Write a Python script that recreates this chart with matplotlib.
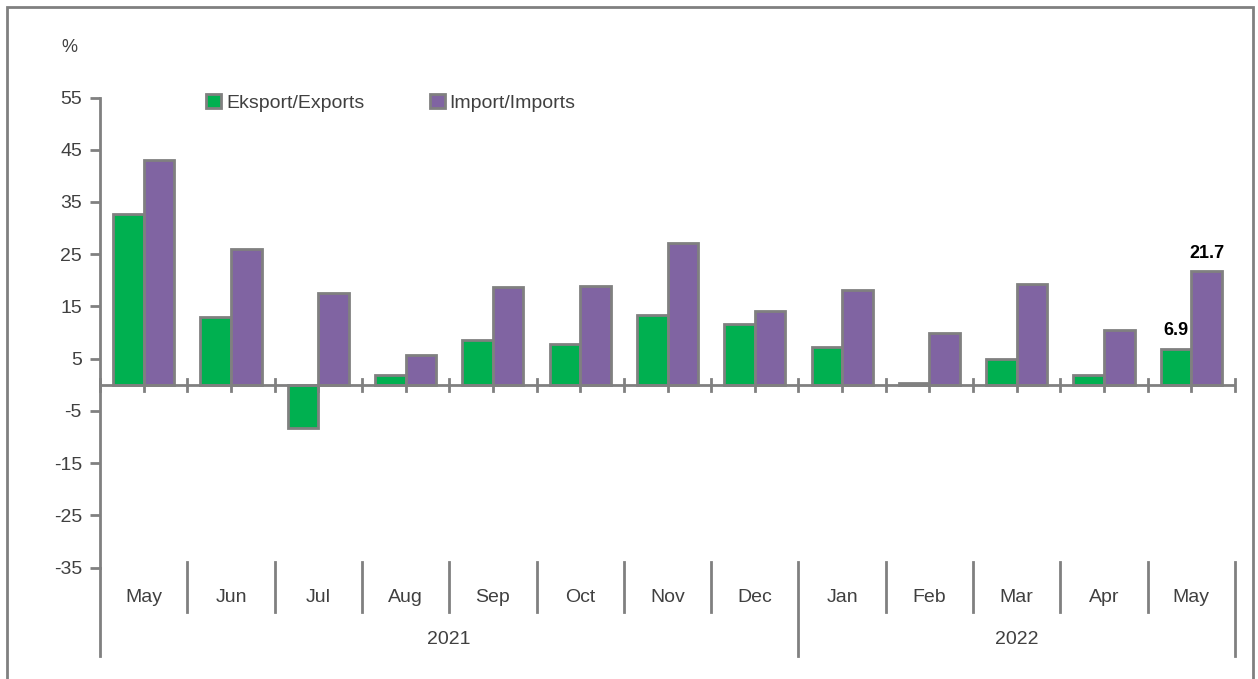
import matplotlib
matplotlib.use("Agg")
import matplotlib.pyplot as plt
from matplotlib import font_manager
from matplotlib.patches import Rectangle
import numpy as np

months = ["May", "Jun", "Jul", "Aug", "Sep", "Oct", "Nov", "Dec",
          "Jan", "Feb", "Mar", "Apr", "May"]
years = ["2021", "2022"]
year_counts = [8, 5]
exports = [32.7, 12.9, -8.3, 1.9, 8.5, 7.8, 13.3, 11.6, 7.2, 0.4, 5.0, 1.9, 6.9]
imports = [43.0, 25.9, 17.5, 5.7, 18.7, 19.0, 27.1, 14.1, 18.2, 9.9, 19.3, 10.5, 21.7]
yticks = [-35, -25, -15, -5, 5, 15, 25, 35, 45, 55]

names = {f.name for f in font_manager.fontManager.ttflist}
fam = "Liberation Sans Narrow" if "Liberation Sans Narrow" in names else "Liberation Sans"
plt.rcParams["font.family"] = [fam, "DejaVu Sans"]

W, H = 1258, 679
fig = plt.figure(figsize=(W / 100, H / 100), dpi=100)

def fx(px):
    return px / W

def fy(py):
    return 1 - py / H

ax = fig.add_axes([fx(100), fy(567.5), fx(1235) - fx(100), fy(97.5) - fy(567.5)])
n = len(months)
ax.set_xlim(0, n)
ax.set_ylim(-35, 55)

green = "#00B050"
purple = "#8064A2"
edge = "#808080"
bw = 0.35
x = np.arange(n) + 0.5
ax.bar(x - bw / 2, exports, bw, color=green, edgecolor=edge, linewidth=2, zorder=3,
       label="Eksport/Exports")
ax.bar(x + bw / 2, imports, bw, color=purple, edgecolor=edge, linewidth=2, zorder=3,
       label="Import/Imports")

for s in ["top", "right", "bottom"]:
    ax.spines[s].set_visible(False)
ax.spines["left"].set_color(edge)
ax.spines["left"].set_linewidth(2)
ax.set_yticks(yticks)
ax.set_yticklabels([str(v) for v in yticks], fontsize=14, color="#404040")
ax.tick_params(axis="y", length=7, width=2, color=edge, pad=6)
ax.set_xticks([])

# zero line with ticks
ax.axhline(0, color=edge, linewidth=2, zorder=4)
ppu = (567.5 - 97.5) / 90.0
t = 6 / ppu
for i in range(n + 1):
    ax.plot([i, i], [-t, t], color=edge, lw=2, zorder=4, clip_on=False)
for xc in x:
    ax.plot([xc, xc], [-t, 0], color=edge, lw=2, zorder=4, clip_on=False)

trans = ax.get_xaxis_transform()
def ay(py):
    return (fy(py) - fy(567.5)) / (fy(97.5) - fy(567.5))

# extend left spine
ax.plot([0, 0], [ay(567.5), ay(656)], color=edge, lw=2, transform=trans, clip_on=False)
bounds = np.cumsum([0] + year_counts)
for i in range(1, n + 1):
    bottom = 656 if i in bounds else 612
    ax.plot([i, i], [ay(562), ay(bottom)], color=edge, lw=2, transform=trans, clip_on=False)
for i, m in enumerate(months):
    ax.text(i + 0.5, ay(598), m, transform=trans, ha="center", va="center",
            fontsize=14, color="#404040")
for k, yr in enumerate(years):
    ax.text((bounds[k] + bounds[k + 1]) / 2, ay(640), yr, transform=trans,
            ha="center", va="center", fontsize=14, color="#404040")

# data labels for last month
ax.text(x[-1] - bw / 2, exports[-1] + 1.8, f"{exports[-1]:.1f}", ha="center", va="bottom",
        fontsize=13, fontweight="bold", color="black")
ax.text(x[-1] + bw / 2, imports[-1] + 1.8, f"{imports[-1]:.1f}", ha="center", va="bottom",
        fontsize=13, fontweight="bold", color="black")

# legend
leg = ax.legend(loc="upper left", bbox_to_anchor=(fx(218) - fx(100), ay(94)),
                bbox_transform=ax.transAxes, ncol=2, frameon=False, fontsize=14,
                handlelength=0.75, handleheight=0.75, handletextpad=0.25,
                columnspacing=3.4, borderaxespad=0, borderpad=0)
for txt in leg.get_texts():
    txt.set_color("#404040")

fig.text(fx(69), fy(47), "%", ha="center", va="center", fontsize=13, color="#404040")

# outer frame
fig.patches.append(Rectangle((fx(7), fy(690)), fx(1253) - fx(7), fy(7) - fy(690),
                             transform=fig.transFigure, fill=False, edgecolor=edge,
                             linewidth=2, clip_on=False))

fig.savefig("out.png", dpi=100)
